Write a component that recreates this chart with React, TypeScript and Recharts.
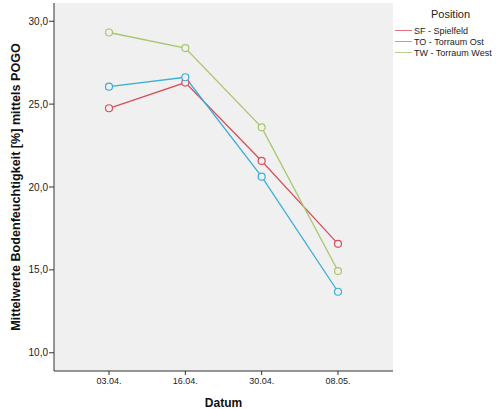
import React from 'react';
import { LineChart, Line, XAxis, YAxis, CartesianGrid } from 'recharts';

const dates = ['03.04.', '16.04.', '30.04.', '08.05.'];
const sfSpielfeld = [24.75, 26.3, 21.57, 16.57];
const toTorraumOst = [26.05, 26.62, 20.62, 13.68];
const twTorraumWest = [29.32, 28.38, 23.6, 14.93];
const yTicks = [10, 15, 20, 25, 30];

const seriesNames = ['SF - Spielfeld', 'TO - Torraum Ost', 'TW - Torraum West'];
const seriesKeys = ['sf', 'to', 'tw'];
const colors = ['#d8505c', '#3aaed8', '#a8c66c'];

const data = dates.map((d, i) => ({
  date: d,
  sf: sfSpielfeld[i],
  to: toTorraumOst[i],
  tw: twTorraumWest[i],
}));

const FONT = '"Liberation Sans", Arial, sans-serif';
const AXIS = '#333333';

const fmt = (v: number) => v.toFixed(1).replace('.', ',');

const YLabel = (props: any) => {
  const vb = props.viewBox || {};
  const cx = vb.x + 16;
  const cy = vb.y + vb.height / 2;
  return (
    <text
      x={cx}
      y={cy}
      transform={`rotate(-90, ${cx}, ${cy})`}
      textAnchor="middle"
      dominantBaseline="central"
      fontFamily={FONT}
      fontWeight="bold"
      fontSize={12.6}
      fill="#111"
    >
      Mittelwerte Bodenfeuchtigkeit [%] mittels POGO
    </text>
  );
};

const XLabel = (props: any) => {
  const vb = props.viewBox || {};
  const cx = vb.x + vb.width / 2;
  const cy = vb.y + 32;
  return (
    <text
      x={cx}
      y={cy}
      textAnchor="middle"
      dominantBaseline="central"
      fontFamily={FONT}
      fontWeight="bold"
      fontSize={12}
      fill="#111"
    >
      Datum
    </text>
  );
};

const LegendBox = () => (
  <div style={{ position: 'absolute', left: 395, top: 8, width: 105, fontFamily: FONT, color: '#222' }}>
    <div style={{ fontSize: 11, textAlign: 'center', marginLeft: 6, lineHeight: '13px', marginBottom: 4 }}>Position</div>
    {seriesNames.map((n, i) => (
      <div key={n} style={{ display: 'flex', alignItems: 'center', height: 11, fontSize: 9 }}>
        <span style={{ display: 'inline-block', width: 17, height: 0, borderTop: `1.2px solid ${colors[i]}`, marginRight: 2, opacity: 0.8 }} />
        <span style={{ whiteSpace: 'nowrap' }}>{n}</span>
      </div>
    ))}
  </div>
);

export default function App() {
  return (
    <div style={{ position: 'absolute', left: 0, top: 0, width: 500, height: 409, background: '#fff' }}>
      <LineChart width={500} height={409} data={data} margin={{ top: 3, right: 107, bottom: 0, left: 0 }}>
        <CartesianGrid fill="#f0f0f0" horizontal={false} vertical={false} />
        <XAxis
          dataKey="date"
          height={38}
          padding={{ left: 55, right: 55 }}
          tickSize={4}
          tickMargin={3}
          stroke={AXIS}
          tick={{ fontSize: 9, fill: '#222', fontFamily: FONT }}
          label={<XLabel />}
        />
        <XAxis
          xAxisId="top"
          dataKey="date"
          orientation="top"
          height={0}
          tick={false}
          tickLine={false}
          stroke={AXIS}
          padding={{ left: 55, right: 55 }}
        />
        <YAxis
          width={54}
          domain={[8.9, 31.1]}
          ticks={yTicks}
          tickFormatter={fmt}
          tickSize={5}
          tickMargin={1}
          stroke={AXIS}
          tick={{ fontSize: 10, fill: '#222', fontFamily: FONT }}
          label={<YLabel />}
          allowDataOverflow
        />
        <YAxis
          yAxisId="right"
          orientation="right"
          width={0}
          tick={false}
          tickLine={false}
          stroke={AXIS}
          domain={[8.9, 31.1]}
        />
        {seriesKeys.map((k, i) => (
          <Line
            key={k}
            type="linear"
            dataKey={k}
            name={seriesNames[i]}
            stroke={colors[i]}
            strokeWidth={1.3}
            dot={{ r: 3.5, fill: '#f0f0f0', stroke: colors[i], strokeWidth: 1.2 }}
            activeDot={false}
            isAnimationActive={false}
          />
        ))}
      </LineChart>
      <LegendBox />
    </div>
  );
}
